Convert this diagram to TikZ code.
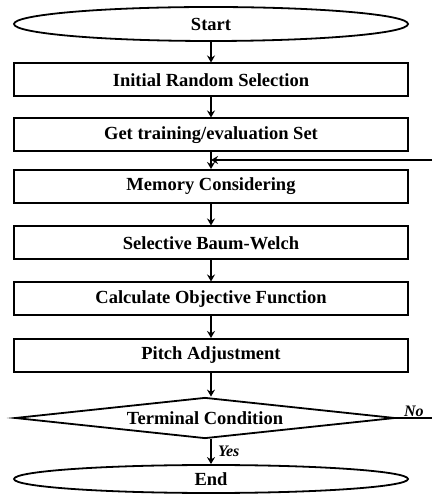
\documentclass[tikz,border=0pt]{standalone}
\usepackage{fontspec}
\setmainfont{Liberation Serif}
\usetikzlibrary{arrows.meta,shapes.geometric,positioning}

\begin{document}
\begin{tikzpicture}[x=1pt,y=1pt,
        every node/.style={font=\bfseries\fontsize{18.5}{20}\selectfont},
        startstop/.style={draw,ellipse,line width=1.8pt,minimum width=394pt,minimum height=34pt,inner sep=0pt},
        process/.style={draw,rectangle,line width=2pt,minimum width=394pt,minimum height=33pt,inner sep=0pt},
        decision/.style={draw,diamond,aspect=9,line width=1.8pt,minimum width=380pt,minimum height=41pt,inner sep=0pt},
        flow/.style={line width=1.5pt,-{Stealth[length=7pt,width=8pt]}},
        lbl/.style={font=\bfseries\itshape\fontsize{16}{18}\selectfont}]

                % Fix the frame.
                \useasboundingbox (0,0) rectangle (432,495);

                % Steps of the search.
                \node[startstop] (start) at (211,471) {Start};
                \node[process] (init) at (211,415) {Initial Random Selection};
                \node[process] (getset) at (211,360) {Get training/evaluation Set};
                \node[process] (memory) at (211,308.5) {Memory Considering};
                \node[process] (baum) at (211,252) {Selective Baum-Welch};
                \node[process] (objective) at (211,196) {Calculate Objective Function};
                \node[process] (pitch) at (211,139.5) {Pitch Adjustment};
                \node[decision] (cond) at (205,77) {Terminal Condition};
                \node[startstop,minimum height=28pt] (finish) at (211,16) {End};

                % Loop ends at the right edge.
                \coordinate (loopin) at (432,335);
                \coordinate (loopout) at (432,77);

                % Connect the steps.
                \draw[flow] (start) -- (init);
                \draw[flow] (init) -- (getset);
                \draw[flow] (getset) -- (memory);
                \draw[flow] (memory) -- (baum);
                \draw[flow] (baum) -- (objective);
                \draw[flow] (objective) -- (pitch);
                \draw[flow] (pitch.south) -- (pitch.south |- cond.north);
                \draw[flow] (finish.north |- cond.south) -- (finish.north)
                    node[midway,right,lbl,xshift=3pt]{Yes};
                \draw[line width=1.5pt] (cond.east) -- (loopout)
                    node[midway,above,lbl,inner sep=1pt]{No};
                \draw[flow] (loopin) -- (getset.south |- loopin);
\end{tikzpicture}
\end{document}
